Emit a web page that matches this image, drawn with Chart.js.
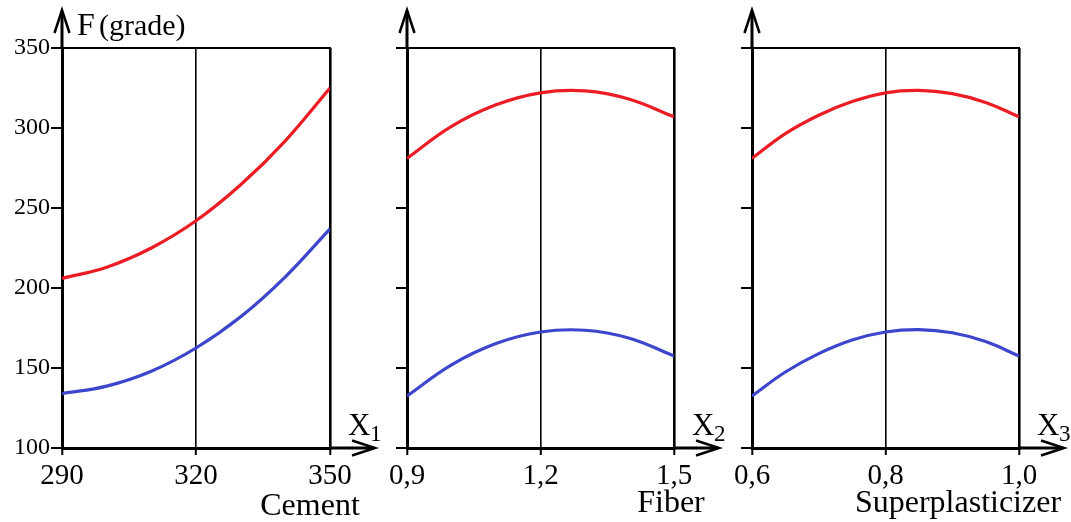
<!DOCTYPE html>
<html>
<head>
<meta charset="utf-8">
<script src="https://cdn.jsdelivr.net/npm/chart.js@4/dist/chart.umd.min.js"></script>
<style>
  html, body { margin: 0; padding: 0; background: #fff; }
  #wrap { position: relative; width: 1071px; height: 522px; }
  .panel { position: absolute; top: 0; height: 522px; }
</style>
</head>
<body>
<div id="wrap">
  <div class="panel" style="left:0px;width:390px"><canvas id="c1" width="390" height="522"></canvas></div>
  <div class="panel" style="left:370px;width:365px"><canvas id="c2" width="365" height="522"></canvas></div>
  <div class="panel" style="left:725px;width:346px"><canvas id="c3" width="346" height="522"></canvas></div>
</div>
<script>
// values
const yTicks = [100, 150, 200, 250, 300, 350]
const yTickLabels = ['100', '150', '200', '250', '300', '350']

const cementX = [290, 300, 310, 320, 330, 340, 350]
const cementRed = [206, 213, 225, 242, 264.5, 292, 325]
const cementBlue = [134, 138.7, 148, 162.5, 182, 207, 237]
const cementTicks = [290, 320, 350]
const cementTickLabels = ['290', '320', '350']

const fiberX = [0.9, 1.0, 1.1, 1.2, 1.3, 1.4, 1.5]
const fiberRed = [281, 301, 314.5, 322, 323.2, 318, 307]
const fiberBlue = [132.5, 152, 165.3, 172.5, 173.6, 168.6, 157.5]
const fiberTicks = [0.9, 1.2, 1.5]
const fiberTickLabels = ['0,9', '1,2', '1,5']

const spX = [0.6, 0.65, 0.7, 0.75, 0.8, 0.85, 0.9, 0.95, 1.0]
const spRed = [281, 296.5, 308, 316.5, 322, 323.5, 321.5, 316, 307]
const spBlue = [132.5, 147.5, 159, 167.5, 172.5, 174, 172, 166.5, 157.5]
const spTicks = [0.6, 0.8, 1.0]
const spTickLabels = ['0,6', '0,8', '1,0']

const RED = '#ec1c24'
const BLUE = '#3c45cc'
const SERIF = "'Liberation Serif', 'Times New Roman', serif"

// arrows, top border, axis names
const framePlugin = {
    id: 'frame',
    afterDraw(chart, args, opts) {
        const {ctx, chartArea: a} = chart
        ctx.save()
        ctx.strokeStyle = '#000'
        ctx.lineJoin = 'miter'
        ctx.lineWidth = 2
        ctx.beginPath()
        ctx.moveTo(a.left, a.top)
        ctx.lineTo(a.right + 1, a.top)
        ctx.stroke()

        ctx.lineWidth = 3
        ctx.beginPath()
        ctx.moveTo(a.left, a.top)
        ctx.lineTo(a.left, 11)
        ctx.moveTo(a.right, a.bottom)
        ctx.lineTo(a.right + 44, a.bottom)
        ctx.stroke()

        ctx.lineWidth = 2.5
        ctx.beginPath()
        ctx.moveTo(a.left - 7.5, 33)
        ctx.lineTo(a.left, 10)
        ctx.lineTo(a.left + 7.5, 33)
        ctx.moveTo(a.right + 22, a.bottom - 7.5)
        ctx.lineTo(a.right + 45, a.bottom)
        ctx.lineTo(a.right + 22, a.bottom + 7.5)
        ctx.stroke()

        ctx.fillStyle = '#000'
        ctx.textBaseline = 'alphabetic'
        ctx.textAlign = 'left'
        ctx.font = '31px ' + SERIF
        ctx.fillText('X', a.right + 18, 435)
        ctx.font = '23px ' + SERIF
        ctx.fillText(opts.sub, a.right + 40, 441)

        ctx.font = '32px ' + SERIF
        ctx.textAlign = 'center'
        ctx.fillText(opts.title, a.right + opts.titleDx, opts.titleY)

        if (opts.showF) {
            ctx.textAlign = 'left'
            ctx.font = '32px ' + SERIF
            ctx.fillText('F', a.left + 15, 35)
            ctx.font = '30px ' + SERIF
            ctx.fillText('(grade)', a.left + 37, 35)
        }
        ctx.restore()
    }
}

function makePanel(canvasId, xs, red, blue, xTicks, xLabels, showYLabels, yWidth, rightPad, frame){
    const chart = new Chart(document.getElementById(canvasId), {
        type: 'line',
        data: {
            datasets: [
                {
                    data: xs.map((x, i) => ({x: x, y: red[i]})),
                    borderColor: RED,
                    borderWidth: 3.2,
                    pointRadius: 0,
                    tension: 0.4
                },
                {
                    data: xs.map((x, i) => ({x: x, y: blue[i]})),
                    borderColor: BLUE,
                    borderWidth: 3.2,
                    pointRadius: 0,
                    tension: 0.4
                }
            ]
        },
        options: {
            responsive: false,
            animation: false,
            events: [],
            layout: { padding: { top: 48, right: rightPad, bottom: 0, left: 0 } },
            plugins: { legend: { display: false }, tooltip: { enabled: false }, frame: frame },
            scales: {
                x: {
                    type: 'linear',
                    min: xTicks[0],
                    max: xTicks[xTicks.length - 1],
                    afterBuildTicks: s => { s.ticks = xTicks.map(v => ({value: v})) },
                    afterFit: s => { s.height = 74 },
                    grid: {
                        color: '#000',
                        lineWidth: c => c.index === 1 ? 1.6 : 2.6,
                        drawTicks: true,
                        tickLength: 7,
                        tickWidth: 2
                    },
                    border: { display: true, color: '#000', width: 3 },
                    ticks: {
                        autoSkip: false,
                        maxRotation: 0,
                        padding: 4,
                        color: '#000',
                        font: { family: SERIF, size: 29 },
                        callback: (v, i) => xLabels[i]
                    }
                },
                y: {
                    type: 'linear',
                    min: yTicks[0],
                    max: yTicks[yTicks.length - 1],
                    afterBuildTicks: s => { s.ticks = yTicks.map(v => ({value: v})) },
                    afterFit: s => { s.width = yWidth },
                    grid: {
                        drawOnChartArea: false,
                        drawTicks: true,
                        tickLength: 11,
                        color: '#000',
                        lineWidth: 2
                    },
                    border: { display: true, color: '#000', width: 3 },
                    ticks: {
                        autoSkip: false,
                        padding: 1,
                        color: '#000',
                        font: { family: SERIF, size: 24 },
                        callback: (v, i) => showYLabels ? yTickLabels[i] : ''
                    }
                }
            }
        },
        plugins: [framePlugin]
    })
    return chart
}

makePanel('c1', cementX, cementRed, cementBlue, cementTicks, cementTickLabels, true, 62, 60,
    { sub: '1', title: 'Cement', titleDx: -20, titleY: 515, showF: true })
makePanel('c2', fiberX, fiberRed, fiberBlue, fiberTicks, fiberTickLabels, false, 37, 61,
    { sub: '2', title: 'Fiber', titleDx: -3, titleY: 512, showF: false })
makePanel('c3', spX, spRed, spBlue, spTicks, spTickLabels, false, 27, 52,
    { sub: '3', title: 'Superplasticizer', titleDx: -61, titleY: 512, showF: false })
</script>
</body>
</html>
